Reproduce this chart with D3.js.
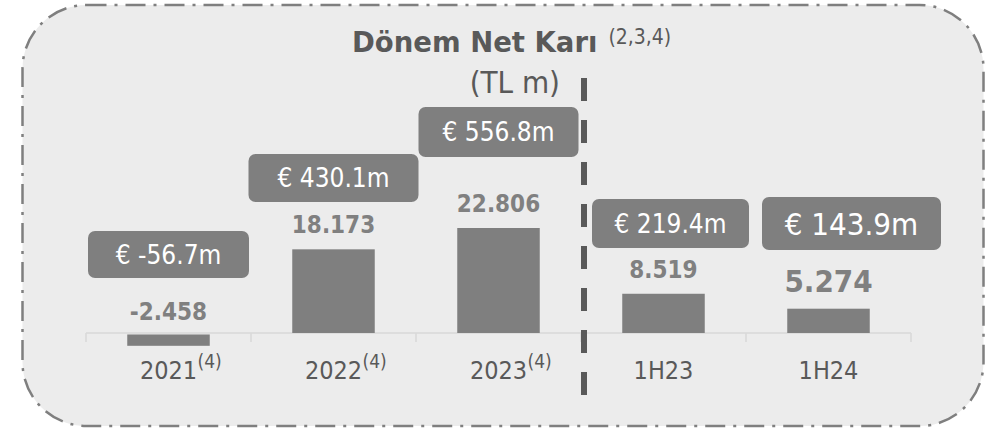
<!DOCTYPE html>
<meta charset="utf-8">
<style>
    body { margin: 0; background: #fff; }
    svg { display: block; }
    text { font-family: "DejaVu Sans Condensed", "DejaVu Sans", sans-serif; }
</style>
<svg width="994" height="428"></svg>
<script src="https://cdn.jsdelivr.net/npm/d3@7"></script>
<script>

    // data
    var categories = ["2021", "2022", "2023", "1H23", "1H24"];
    var footnotes = ["(4)", "(4)", "(4)", "", ""];
    var netProfit = [-2458, 18173, 22806, 8519, 5274];       // TL m
    var netProfitEur = [-56.7, 430.1, 556.8, 219.4, 143.9];   // EUR m

    // layout of the euro call-out boxes (offset from band centre, top, size, font)
    var boxLayout = [
        { dx: 0,  top: 231, w: 161, h: 47, fs: 26 },
        { dx: 0,  top: 154, w: 170, h: 48, fs: 26 },
        { dx: 0,  top: 107, w: 160, h: 50, fs: 26 },
        { dx: 7,  top: 199, w: 157, h: 49, fs: 26 },
        { dx: 23, top: 197, w: 179, h: 53, fs: 31 }
    ];

    var svg = d3.select("svg"),
        width = +svg.attr("width"),
        height = +svg.attr("height");

    var trFormat = d3.formatLocale({
        decimal: ",", thousands: ".", grouping: [3], currency: ["", ""], minus: "-"
    }).format(",");

    var x = d3.scaleBand()
        .domain(categories)
        .range([86, 911])
        .paddingInner(0.5)
        .paddingOuter(0.25);

    var y = d3.scaleLinear()
        .domain([-5000, 25000])
        .range([356, 217.9]);

    // frame
    svg.append("rect")
        .attr("x", 22.5)
        .attr("y", 5)
        .attr("width", 961)
        .attr("height", 421)
        .attr("rx", 64)
        .attr("ry", 64)
        .attr("fill", "#ececec")
        .attr("stroke", "#7f7f7f")
        .attr("stroke-width", 2.5)
        .attr("stroke-dasharray", "20 8 3 8");

    // title
    var title = svg.append("text")
        .attr("x", 352)
        .attr("y", 52)
        .attr("fill", "#595959");
    title.append("tspan")
        .style("font-family", "'DejaVu Sans', sans-serif")
        .attr("font-weight", "bold")
        .attr("font-size", 27.5)
        .text("Dönem Net Karı");
    title.append("tspan")
        .attr("font-size", 21)
        .attr("dx", 11)
        .attr("dy", -8)
        .text("(2,3,4)");

    svg.append("text")
        .attr("x", 560)
        .attr("y", 93)
        .attr("text-anchor", "end")
        .attr("fill", "#595959")
        .attr("font-size", 31)
        .text("(TL m)");

    // axis line and ticks between bands
    var axis = svg.append("g").attr("class", "axis");
    axis.append("line")
        .attr("x1", x.range()[0])
        .attr("x2", x.range()[1])
        .attr("y1", y(0))
        .attr("y2", y(0))
        .attr("stroke", "#d9d9d9")
        .attr("stroke-width", 1.5);
    axis.selectAll(".tick")
        .data(d3.range(categories.length + 1))
        .enter().append("line")
        .attr("class", "tick")
        .attr("x1", function (i) { return x.range()[0] + i * x.step(); })
        .attr("x2", function (i) { return x.range()[0] + i * x.step(); })
        .attr("y1", y(0))
        .attr("y2", y(0) + 9)
        .attr("stroke", "#d9d9d9")
        .attr("stroke-width", 1.5);

    // bars
    svg.append("g")
        .selectAll("rect")
        .data(netProfit)
        .enter().append("rect")
        .attr("x", function (d, i) { return x(categories[i]); })
        .attr("width", x.bandwidth())
        .attr("y", function (d) { return d < 0 ? y(0) + 1.5 : y(d); })
        .attr("height", function (d) { return d < 0 ? y(d) - y(0) : y(0) - y(d); })
        .attr("fill", "#7f7f7f");

    // value labels
    svg.append("g")
        .selectAll("text")
        .data(netProfit)
        .enter().append("text")
        .attr("x", function (d, i) { return x(categories[i]) + x.bandwidth() / 2; })
        .attr("y", function (d, i) { return d < 0 ? y(0) - 13 : y(d) - (i == 4 ? 17 : 16); })
        .attr("text-anchor", "middle")
        .attr("font-weight", "bold")
        .attr("font-size", function (d, i) { return i == 4 ? 31 : 24; })
        .attr("fill", "#808080")
        .text(function (d) { return trFormat(d); });

    // category labels
    var labels = svg.append("g")
        .selectAll("g")
        .data(categories)
        .enter().append("g");
    labels.append("text")
        .attr("x", function (d) { return x(d) + x.bandwidth() / 2; })
        .attr("y", 379)
        .attr("text-anchor", "middle")
        .attr("fill", "#595959")
        .attr("font-size", 25)
        .text(function (d) { return d; });
    labels.append("text")
        .attr("x", function (d) { return x(d) + x.bandwidth() / 2 + 29; })
        .attr("y", 368)
        .attr("fill", "#595959")
        .attr("font-size", 19)
        .text(function (d, i) { return footnotes[i]; });

    // euro call-outs
    var boxes = svg.append("g")
        .selectAll("g")
        .data(netProfitEur)
        .enter().append("g")
        .attr("transform", function (d, i) {
            var b = boxLayout[i];
            var cx = x(categories[i]) + x.bandwidth() / 2 + b.dx;
            return "translate(" + cx + "," + b.top + ")";
        });
    boxes.append("rect")
        .attr("x", function (d, i) { return -boxLayout[i].w / 2; })
        .attr("width", function (d, i) { return boxLayout[i].w; })
        .attr("height", function (d, i) { return boxLayout[i].h; })
        .attr("rx", 7)
        .attr("fill", "#7f7f7f");
    boxes.append("text")
        .attr("y", function (d, i) { return boxLayout[i].h / 2 + boxLayout[i].fs * 0.36; })
        .attr("text-anchor", "middle")
        .attr("fill", "#fff")
        .attr("font-size", function (d, i) { return boxLayout[i].fs; })
        .text(function (d) { return "€ " + d3.format(".1f")(d).replace("−", "-") + "m"; });

    // period separator
    svg.append("line")
        .attr("x1", 584)
        .attr("x2", 584)
        .attr("y1", 78)
        .attr("y2", 396)
        .attr("stroke", "#595959")
        .attr("stroke-width", 6)
        .attr("stroke-dasharray", "23 19");

</script>
